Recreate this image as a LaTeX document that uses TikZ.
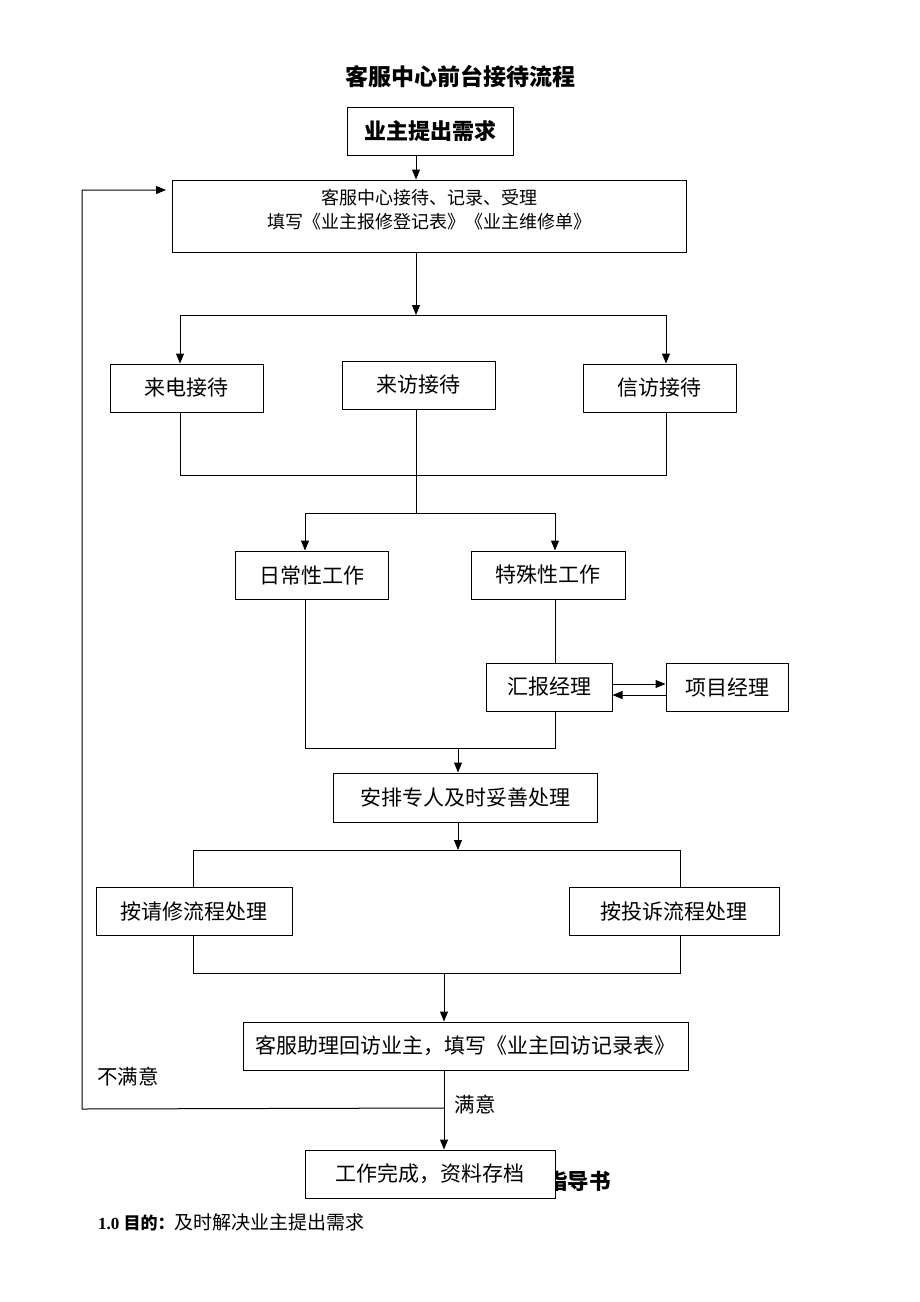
\documentclass[tikz,border=0pt]{standalone}
\usepackage{fontspec}
\setmainfont{Liberation Serif}
\newfontfamily\cjk{Noto Sans CJK SC}
\newfontfamily\tms{Liberation Serif}
\usetikzlibrary{arrows.meta}
\tikzset{
  box/.style={draw, line width=1pt, fill=white, inner sep=0pt, font=\cjk\fontsize{21}{25}\selectfont},
  arr/.style={-{Triangle[length=10pt,width=8pt]}, line width=1pt},
  ln/.style={line width=1pt},
  lbl/.style={inner sep=0pt, font=\cjk\fontsize{20.5}{24}\selectfont}
}
\begin{document}
\begin{tikzpicture}[x=1pt,y=-1pt]
\fill[white] (0,0) rectangle (920,1302);
\useasboundingbox (0,0) rectangle (920,1302);

% title
\node[inner sep=0pt, font=\cjk\bfseries\fontsize{23}{27}\selectfont] (title) at (460,77) {客服中心前台接待流程};

% boxes
\node[box, font=\cjk\bfseries\fontsize{22}{26}\selectfont, minimum width=166, minimum height=48] (n1) at (430,131) {业主提出需求};
\node[box, minimum width=514, minimum height=72,
  label={[yshift=6pt, align=center, font=\cjk\fontsize{18}{24}\selectfont]center:客服中心接待、记录、受理\\填写《业主报修登记表》《业主维修单》}] (n2) at (429,216) {};
\node[box, minimum width=153, minimum height=48] (n3) at (186.5,388) {来电接待};
\node[box, minimum width=153, minimum height=48] (n4) at (418.5,385) {来访接待};
\node[box, minimum width=153, minimum height=48] (n5) at (659.5,388) {信访接待};
\node[box, minimum width=153, minimum height=48] (n6) at (311.5,575) {日常性工作};
\node[box, minimum width=154, minimum height=48] (n7) at (548,575) {特殊性工作};
\node[box, minimum width=126, minimum height=48] (n8) at (549,687) {汇报经理};
\node[box, minimum width=122, minimum height=48] (n9) at (727,687) {项目经理};
\node[box, minimum width=264, minimum height=49] (n10) at (465,797.5) {安排专人及时妥善处理};
\node[box, minimum width=196, minimum height=48] (n11) at (194,911) {按请修流程处理};
\node[box, minimum width=210, minimum height=48] (n12) at (674,911) {按投诉流程处理};
\node[box, minimum width=445, minimum height=48] (n13) at (465.5,1046) {客服助理回访业主，填写《业主回访记录表》};

% text partly hidden behind the last box
\node[inner sep=0pt, anchor=east, font=\cjk\bfseries\fontsize{21.5}{25}\selectfont] (guide) at (611,1181) {指导书};
\node[box, minimum width=250, minimum height=48] (n14) at (430,1174) {工作完成，资料存档};

% bottom line of text
\node[inner sep=0pt, anchor=west] (purpose) at (98,1222) {{\tms\bfseries\fontsize{17}{20}\selectfont 1.0 }{\cjk\bfseries\fontsize{17}{20}\selectfont 目的：}{\cjk\fontsize{19}{20}\selectfont 及时解决业主提出需求}};

% labels
\node[lbl] (bad) at (128,1077) {不满意};
\node[lbl] (good) at (475,1105) {满意};

% coordinates
\coordinate (x416) at (416,0);
\coordinate (j1) at (416,315);
\coordinate (jL) at (180,315);
\coordinate (jR) at (666,315);
\coordinate (kL) at (180,475);
\coordinate (kR) at (666,475);
\coordinate (m) at (416,513);
\coordinate (mL) at (305,513);
\coordinate (mR) at (555,513);
\coordinate (pL) at (305,748);
\coordinate (pR) at (555,748);
\coordinate (p) at (458,748);
\coordinate (q) at (458,850);
\coordinate (qL) at (193,850);
\coordinate (qR) at (680,850);
\coordinate (r) at (444,973);
\coordinate (rL) at (193,973);
\coordinate (rR) at (680,973);
\coordinate (s) at (444,1108);
\coordinate (fb1) at (82,1109);
\coordinate (fb2) at (82,190);
\coordinate (fb3) at (166,190);

% connectors
\draw[arr] (x416 |- n1.south) -- (x416 |- n2.north);
\draw[arr] (x416 |- n2.south) -- (j1);
\draw[ln] (jL) -- (jR);
\draw[arr] (jL) -- (jL |- n3.north);
\draw[arr] (jR) -- (jR |- n5.north);
\draw[ln] (kL |- n3.south) -- (kL) -- (kR) -- (kR |- n5.south);
\draw[ln] (x416 |- n4.south) -- (m);
\draw[ln] (mL) -- (mR);
\draw[arr] (mL) -- (mL |- n6.north);
\draw[arr] (mR) -- (mR |- n7.north);
\draw[ln] (mR |- n7.south) -- (mR |- n8.north);
\draw[arr] ([yshift=3pt]n8.east) -- ([yshift=3pt]n9.west);
\draw[arr] ([yshift=-8pt]n9.west) -- ([yshift=-8pt]n8.east);
\draw[ln] (mL |- n6.south) -- (pL) -- (pR) -- (mR |- n8.south);
\draw[arr] (p) -- (p |- n10.north);
\draw[arr] (p |- n10.south) -- (q);
\draw[ln] (qL |- n11.north) -- (qL) -- (qR) -- (qR |- n12.north);
\draw[ln] (qL |- n11.south) -- (rL) -- (rR) -- (qR |- n12.south);
\draw[arr] (r) -- (r |- n13.north);
\draw[arr] (r |- n13.south) -- (r |- n14.north);
\draw[arr] (s) -- (fb1) -- (fb2) -- (fb3);
\end{tikzpicture}
\end{document}
